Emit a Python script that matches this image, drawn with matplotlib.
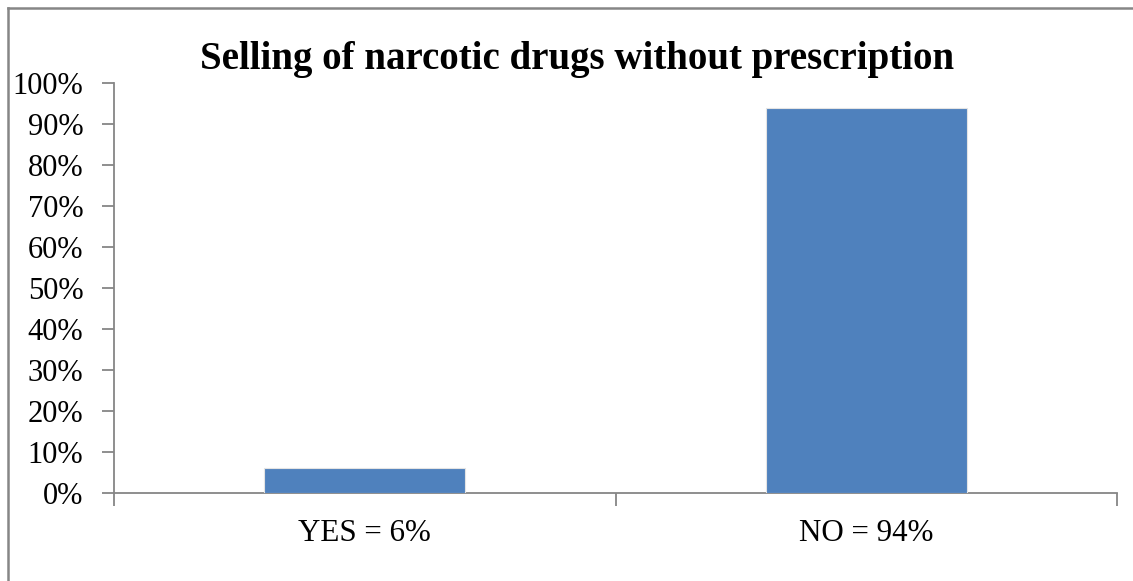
import numpy as np
import matplotlib
matplotlib.use('Agg')
import matplotlib.pyplot as plt
from matplotlib.lines import Line2D

categories = ['YES = 6%', 'NO = 94%']
values = [6, 94]
yticks = [0, 10, 20, 30, 40, 50, 60, 70, 80, 90, 100]

plt.rcParams['font.family'] = ['Liberation Serif', 'DejaVu Serif']

W, H = 1133, 581
fig = plt.figure(figsize=(W / 100, H / 100), dpi=100)
ax = fig.add_axes([114 / W, (H - 493) / H, (1117 - 114) / W, (493 - 83) / H])

gray = '#868686'
x = np.arange(len(categories))
ax.bar(x, values, width=0.4, color='#4F81BD', edgecolor='#e4e4e4', linewidth=0.8, zorder=3)

ax.set_xlim(-0.5, len(categories) - 0.5)
ax.set_ylim(0, 100)
ax.set_yticks(yticks)
ax.set_yticklabels([f'{v}%' for v in yticks])
ax.set_xticks(x)
ax.set_xticklabels(categories)
ax.set_xticks([-0.5, 0.5, 1.5], minor=True)

ax.tick_params(axis='y', length=9, width=1.3, color=gray, labelsize=22, pad=13)
ax.tick_params(axis='x', which='major', length=0, labelsize=22.3, pad=19)
ax.tick_params(axis='x', which='minor', length=9, width=1.3, color=gray)

for side in ['top', 'right']:
    ax.spines[side].set_visible(False)
for side in ['left', 'bottom']:
    ax.spines[side].set_color(gray)
    ax.spines[side].set_linewidth(1.3)

ax.set_title('Selling of narcotic drugs without prescription', fontsize=28,
             fontweight='bold', x=(577 - 114) / (1117 - 114), y=1.0, pad=10)

# outer frame of the chart area (top and left edges)
fig.add_artist(Line2D([8 / W, 8 / W], [0, 1 - 8 / H], color=gray, lw=1.8))
fig.add_artist(Line2D([8 / W, 1], [1 - 8 / H, 1 - 8 / H], color=gray, lw=1.8))

fig.savefig('out.png', dpi=100)
